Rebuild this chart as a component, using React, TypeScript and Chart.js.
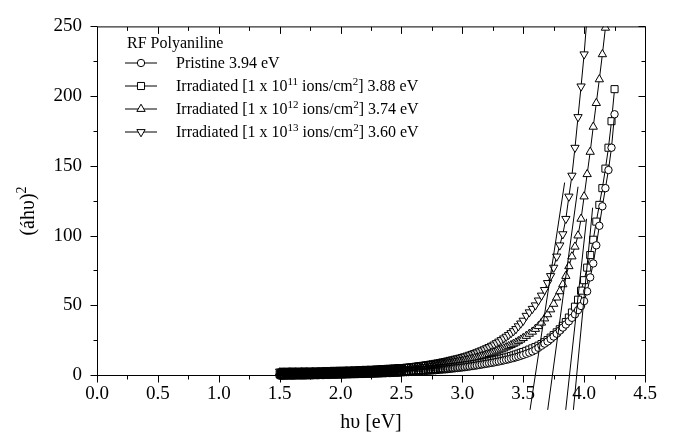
import React, { useEffect, useRef } from 'react';
import { Chart, registerables } from 'chart.js';

Chart.register(...registerables);

// ---- data ----
// photon energy grid, eV (dense at low energy like the measured spectrum)
const energy = [
  1.50, 1.51, 1.52, 1.53, 1.54, 1.55, 1.56, 1.57, 1.58, 1.59,
  1.60, 1.61, 1.62, 1.63, 1.64, 1.65, 1.66, 1.67, 1.68, 1.69,
  1.70, 1.71, 1.72, 1.73, 1.74, 1.75, 1.76, 1.77, 1.78, 1.79,
  1.80, 1.81, 1.82, 1.83, 1.84, 1.85, 1.86, 1.87, 1.88, 1.89,
  1.90, 1.91, 1.92, 1.93, 1.94, 1.95, 1.96, 1.97, 1.98, 1.99,
  2.00, 2.01, 2.02, 2.03, 2.04, 2.05, 2.06, 2.07, 2.08, 2.09,
  2.10, 2.11, 2.12, 2.13, 2.14, 2.15, 2.16, 2.17, 2.18, 2.19,
  2.20, 2.21, 2.22, 2.23, 2.24, 2.25, 2.26, 2.27, 2.28, 2.29,
  2.30, 2.31, 2.32, 2.33, 2.34, 2.35, 2.36, 2.37, 2.38, 2.39,
  2.40, 2.41, 2.42, 2.43, 2.44, 2.45, 2.46, 2.47, 2.48, 2.49,
  2.50,
  2.52, 2.54, 2.56, 2.58, 2.60, 2.62, 2.64, 2.66, 2.68, 2.70,
  2.72, 2.74, 2.76, 2.78, 2.80, 2.82, 2.84, 2.86, 2.88, 2.90,
  2.92, 2.94, 2.96, 2.98, 3.00, 3.02, 3.04, 3.06, 3.08, 3.10,
  3.12, 3.14, 3.16, 3.18, 3.20, 3.22, 3.24, 3.26, 3.28, 3.30,
  3.32, 3.34, 3.36, 3.38, 3.40, 3.42, 3.44, 3.46, 3.48, 3.50,
  3.525, 3.55, 3.575, 3.6, 3.625, 3.65, 3.675, 3.7, 3.725, 3.75,
  3.775, 3.8, 3.825, 3.85, 3.875, 3.9, 3.925, 3.95, 3.975, 4.0,
  4.025, 4.05, 4.075, 4.1, 4.125, 4.15, 4.175, 4.2, 4.225, 4.25,
];

// Pristine (circles)
const pristine = [
  -0.5, -0.5, -0.5, -0.5, -0.5, -0.4, -0.4, -0.4, -0.4, -0.4,
  -0.4, -0.4, -0.4, -0.3, -0.3, -0.3, -0.3, -0.3, -0.3, -0.3,
  -0.3, -0.3, -0.2, -0.2, -0.2, -0.2, -0.2, -0.2, -0.1, -0.1,
  -0.1, -0.1, -0.1, 0.0, 0.0, 0.0, 0.0, 0.1, 0.1, 0.1,
  0.1, 0.1, 0.2, 0.2, 0.2, 0.2, 0.2, 0.3, 0.3, 0.3,
  0.3, 0.3, 0.4, 0.4, 0.4, 0.5, 0.5, 0.5, 0.5, 0.6,
  0.6, 0.6, 0.6, 0.7, 0.7, 0.7, 0.7, 0.8, 0.8, 0.8,
  0.8, 0.8, 0.9, 0.9, 0.9, 0.9, 1.0, 1.0, 1.0, 1.1,
  1.1, 1.1, 1.2, 1.2, 1.2, 1.3, 1.3, 1.3, 1.4, 1.4,
  1.4, 1.5, 1.5, 1.5, 1.6, 1.6, 1.6, 1.7, 1.7, 1.8,
  1.8,
  1.9, 2.0, 2.1, 2.2, 2.3, 2.4, 2.5, 2.6, 2.7, 2.9,
  3.0, 3.1, 3.3, 3.4, 3.6, 3.7, 3.9, 4.0, 4.2, 4.4,
  4.6, 4.8, 5.0, 5.2, 5.4, 5.6, 5.9, 6.1, 6.4, 6.6,
  6.9, 7.2, 7.5, 7.8, 8.1, 8.4, 8.7, 9.0, 9.4, 9.7,
  10.1, 10.5, 10.9, 11.3, 11.8, 12.2, 12.7, 13.2, 13.8, 14.4,
  15.2, 16.0, 16.9, 18.0, 19.5, 21.0, 22.5, 24.0, 25.8, 27.6,
  29.6, 31.8, 34.0, 36.2, 38.5, 41.0, 43.5, 46.5, 49.5, 53,
  60, 70, 80, 93, 107, 121, 134, 147, 163, 187,
];

// Irradiated 1e11 ions/cm2 (squares)
const irradiated1e11 = [
  0.5, 0.5, 0.5, 0.5, 0.5, 0.5, 0.5, 0.5, 0.6, 0.6,
  0.6, 0.6, 0.6, 0.6, 0.6, 0.6, 0.6, 0.6, 0.6, 0.7,
  0.7, 0.7, 0.7, 0.7, 0.7, 0.7, 0.7, 0.7, 0.7, 0.8,
  0.8, 0.8, 0.8, 0.8, 0.8, 0.9, 0.9, 0.9, 0.9, 0.9,
  0.9, 0.9, 1.0, 1.0, 1.0, 1.0, 1.0, 1.0, 1.1, 1.1,
  1.1, 1.1, 1.1, 1.2, 1.2, 1.2, 1.2, 1.3, 1.3, 1.3,
  1.3, 1.3, 1.4, 1.4, 1.4, 1.4, 1.5, 1.5, 1.5, 1.5,
  1.6, 1.6, 1.6, 1.6, 1.7, 1.7, 1.7, 1.8, 1.8, 1.8,
  1.9, 1.9, 1.9, 2.0, 2.0, 2.0, 2.1, 2.1, 2.1, 2.2,
  2.2, 2.2, 2.3, 2.3, 2.4, 2.4, 2.4, 2.5, 2.5, 2.6,
  2.6,
  2.7, 2.8, 2.9, 3.0, 3.1, 3.3, 3.4, 3.5, 3.6, 3.8,
  3.9, 4.0, 4.2, 4.3, 4.5, 4.7, 4.8, 5.0, 5.2, 5.4,
  5.6, 5.8, 6.0, 6.3, 6.5, 6.8, 7.0, 7.3, 7.5, 7.8,
  8.1, 8.4, 8.7, 9.0, 9.4, 9.7, 10.1, 10.5, 10.9, 11.3,
  11.7, 12.2, 12.6, 13.1, 13.6, 14.1, 14.7, 15.3, 15.9, 16.5,
  17.3, 18.2, 19.1, 20.0, 21.0, 22.2, 23.5, 25.0, 26.8, 28.6,
  30.6, 32.8, 35.3, 38.0, 41.2, 44.8, 49.0, 54.0, 60.5, 68,
  77, 86, 97, 110, 122, 134, 148, 163, 182, 205,
];

// Irradiated 1e12 ions/cm2 (up triangles)
const irradiated1e12 = [
  1.8, 1.8, 1.8, 1.8, 1.8, 1.8, 1.8, 1.9, 1.9, 1.9,
  1.9, 1.9, 1.9, 1.9, 1.9, 1.9, 1.9, 1.9, 2.0, 2.0,
  2.0, 2.0, 2.0, 2.0, 2.0, 2.0, 2.0, 2.1, 2.1, 2.1,
  2.1, 2.1, 2.1, 2.2, 2.2, 2.2, 2.2, 2.3, 2.3, 2.3,
  2.3, 2.3, 2.4, 2.4, 2.4, 2.4, 2.4, 2.5, 2.5, 2.5,
  2.5, 2.5, 2.6, 2.6, 2.6, 2.7, 2.7, 2.7, 2.7, 2.8,
  2.8, 2.8, 2.9, 2.9, 2.9, 3.0, 3.0, 3.0, 3.1, 3.1,
  3.1, 3.1, 3.2, 3.2, 3.2, 3.2, 3.3, 3.3, 3.4, 3.4,
  3.5, 3.5, 3.6, 3.6, 3.7, 3.7, 3.8, 3.8, 3.9, 3.9,
  4.0, 4.0, 4.1, 4.1, 4.2, 4.2, 4.3, 4.3, 4.3, 4.4,
  4.4,
  4.6, 4.7, 4.9, 5.0, 5.2, 5.4, 5.6, 5.8, 6.0, 6.2,
  6.4, 6.5, 6.7, 6.9, 7.2, 7.4, 7.7, 7.9, 8.2, 8.5,
  8.8, 9.1, 9.4, 9.7, 10.0, 10.4, 10.8, 11.2, 11.6, 12.0,
  12.4, 12.9, 13.4, 13.9, 14.4, 15.0, 15.6, 16.2, 16.9, 17.6,
  18.3, 19.0, 19.8, 20.6, 21.4, 22.3, 23.2, 24.2, 25.3, 26.5,
  28.0, 29.5, 31.0, 33.0, 35.0, 37.5, 40.5, 43.5, 47.0, 51,
  55.5, 60, 65, 71, 78, 85, 92, 100, 112, 128,
  144, 160, 178, 195, 212, 230, 249,
];

// Irradiated 1e13 ions/cm2 (down triangles)
const irradiated1e13 = [
  2.5, 2.5, 2.5, 2.5, 2.5, 2.6, 2.6, 2.6, 2.6, 2.6,
  2.6, 2.6, 2.6, 2.7, 2.7, 2.7, 2.7, 2.7, 2.7, 2.7,
  2.7, 2.8, 2.8, 2.8, 2.8, 2.8, 2.8, 2.8, 2.9, 2.9,
  2.9, 2.9, 2.9, 2.9, 3.0, 3.0, 3.0, 3.0, 3.0, 3.1,
  3.1, 3.1, 3.1, 3.1, 3.2, 3.2, 3.2, 3.2, 3.3, 3.3,
  3.3, 3.3, 3.4, 3.4, 3.4, 3.5, 3.5, 3.5, 3.6, 3.6,
  3.6, 3.7, 3.7, 3.7, 3.8, 3.8, 3.8, 3.9, 3.9, 4.0,
  4.0, 4.0, 4.1, 4.1, 4.2, 4.2, 4.2, 4.3, 4.3, 4.4,
  4.4, 4.5, 4.5, 4.6, 4.6, 4.7, 4.7, 4.8, 4.8, 4.9,
  4.9, 5.0, 5.0, 5.1, 5.1, 5.2, 5.3, 5.3, 5.4, 5.4,
  5.5,
  5.7, 5.9, 6.1, 6.3, 6.5, 6.7, 7.0, 7.2, 7.4, 7.7,
  7.9, 8.2, 8.5, 8.8, 9.1, 9.4, 9.8, 10.1, 10.5, 10.9,
  11.3, 11.7, 12.1, 12.5, 13.0, 13.5, 14.0, 14.6, 15.2, 15.8,
  16.4, 17.1, 17.8, 18.5, 19.3, 20.1, 21.0, 21.9, 22.9, 24.0,
  25.1, 26.3, 27.5, 28.8, 30.1, 31.5, 33.0, 35.0, 37.0, 39.0,
  42.5, 45, 47.5, 50, 53.5, 57, 61, 66, 71, 77,
  85, 93, 101, 112, 128, 143, 163, 185, 207, 230,
  258,
];

const seriesLabels = [
  'Pristine 3.94 eV',
  'Irradiated [1 x 10^{11} ions/cm^{2}] 3.88 eV',
  'Irradiated [1 x 10^{12} ions/cm^{2}] 3.74 eV',
  'Irradiated [1 x 10^{13} ions/cm^{2}] 3.60 eV',
];
const legendTitle = 'RF Polyaniline';

// linear extrapolation (band-gap) lines: endpoints [x0, x1] and [y0, y1]
const fitLineEnergy = [
  [3.912, 4.07],
  [3.849, 4.02],
  [3.701, 3.95],
  [3.556, 3.84],
];
const fitLineValues = [
  [-25, 120],
  [-25, 112],
  [-25, 135],
  [-25, 138],
];

const xMajorTicks = [0, 0.5, 1.0, 1.5, 2.0, 2.5, 3.0, 3.5, 4.0, 4.5];
const xMinorTicks = [0.25, 0.75, 1.25, 1.75, 2.25, 2.75, 3.25, 3.75, 4.25];
const yMajorTicks = [0, 50, 100, 150, 200, 250];
const yMinorTicks = [25, 75, 125, 175, 225];

const xTitle = 'hυ [eV]';
const yTitle = '(áhυ)^{2}';

// ---- helpers ----
const FONT = '"Liberation Serif", "Times New Roman", serif';

function drawRich(ctx: CanvasRenderingContext2D, text: string, x: number, y: number, size: number, measureOnly = false): number {
  const parts = text.split(/(\^\{[^}]*\})/).filter((p) => p.length > 0);
  let cx = x;
  for (const p of parts) {
    if (p.startsWith('^{')) {
      const t = p.slice(2, -1);
      ctx.font = `${Math.round(size * 0.68)}px ${FONT}`;
      if (!measureOnly) ctx.fillText(t, cx, y - size * 0.4);
      cx += ctx.measureText(t).width;
    } else {
      ctx.font = `${size}px ${FONT}`;
      if (!measureOnly) ctx.fillText(p, cx, y);
      cx += ctx.measureText(p).width;
    }
  }
  return cx - x;
}

function drawMarker(ctx: CanvasRenderingContext2D, style: string, rot: number, r: number, x: number, y: number) {
  ctx.beginPath();
  if (style === 'circle') {
    ctx.arc(x, y, r, 0, Math.PI * 2);
  } else if (style === 'rect') {
    const s = r * Math.SQRT1_2;
    ctx.rect(x - s, y - s, 2 * s, 2 * s);
  } else {
    let a = (rot * Math.PI) / 180;
    ctx.moveTo(x + Math.sin(a) * r, y - Math.cos(a) * r);
    a += (2 * Math.PI) / 3;
    ctx.lineTo(x + Math.sin(a) * r, y - Math.cos(a) * r);
    a += (2 * Math.PI) / 3;
    ctx.lineTo(x + Math.sin(a) * r, y - Math.cos(a) * r);
    ctx.closePath();
  }
  ctx.fillStyle = '#ffffff';
  ctx.fill();
  ctx.stroke();
}

const markerStyles = [
  { style: 'circle', rot: 0, r: 3.7 },
  { style: 'rect', rot: 0, r: 5 },
  { style: 'triangle', rot: 0, r: 4.8 },
  { style: 'triangle', rot: 180, r: 4.8 },
];

// the measured points overlap so densely at low energy that they merge into a dark band;
// marker fill fades from see-through to opaque white across this energy range
const DENSE_FROM = 2.8;
const DENSE_TO = 3.45;

export default function App() {
  const ref = useRef<HTMLCanvasElement | null>(null);

  useEffect(() => {
    const canvas = ref.current;
    if (!canvas) return;

    const seriesValues = [pristine, irradiated1e11, irradiated1e12, irradiated1e13];

    const fillFor = (c: any) => {
      const x = c.raw ? c.raw.x : 5;
      const a = Math.max(0, Math.min(1, (x - DENSE_FROM) / (DENSE_TO - DENSE_FROM)));
      return `rgba(255,255,255,${a.toFixed(2)})`;
    };

    const fitSets = fitLineEnergy.map((xs, i) => ({
      label: 'fit' + i,
      data: xs.map((x, j) => ({ x, y: fitLineValues[i][j] })),
      showLine: true,
      borderColor: '#000',
      borderWidth: 1,
      pointRadius: 0,
      clip: { left: 0, right: 0, top: 0, bottom: 45 },
    }));

    const seriesSets = seriesValues.map((vals, i) => ({
      label: seriesLabels[i],
      data: vals.map((y, j) => ({ x: energy[j], y })),
      showLine: true,
      borderColor: '#000',
      borderWidth: 1,
      pointStyle: markerStyles[i].style,
      pointRotation: markerStyles[i].rot,
      pointRadius: markerStyles[i].r,
      pointBorderWidth: 1,
      pointBorderColor: '#000',
      pointBackgroundColor: fillFor,
      clip: { left: 6, right: 6, top: 0, bottom: 8 },
    }));

    const framePlugin = {
      id: 'frame',
      afterDraw(chart: any) {
        const { ctx, chartArea } = chart;
        const { left, right, top, bottom } = chartArea;
        const xs = chart.scales.x;
        const ys = chart.scales.y;
        ctx.save();
        ctx.strokeStyle = '#000';
        ctx.lineWidth = 1;
        ctx.strokeRect(left + 0.5, top + 0.5, right - left, bottom - top);
        const tick = (x1: number, y1: number, x2: number, y2: number) => {
          ctx.beginPath();
          ctx.moveTo(x1, y1);
          ctx.lineTo(x2, y2);
          ctx.stroke();
        };
        const B = bottom + 0.5;
        const T = top + 0.5;
        const L = left + 0.5;
        const R = right + 0.5;
        const xTicks = [...xMajorTicks.map((v) => [v, 7]), ...xMinorTicks.map((v) => [v, 4])];
        xTicks.forEach(([v, len]) => {
          const px = Math.round(xs.getPixelForValue(v)) + 0.5;
          tick(px, B, px, B + len);
          tick(px, T, px, T + len);
        });
        const yTicks = [...yMajorTicks.map((v) => [v, 7]), ...yMinorTicks.map((v) => [v, 4])];
        yTicks.forEach(([v, len]) => {
          const py = Math.round(ys.getPixelForValue(v)) + 0.5;
          tick(L, py, L - len, py);
          tick(R, py, R - len, py);
        });

        // legend
        ctx.fillStyle = '#000';
        ctx.textAlign = 'left';
        ctx.textBaseline = 'alphabetic';
        ctx.font = `16px ${FONT}`;
        ctx.fillText(legendTitle, 127, 48);
        seriesLabels.forEach((lab, i) => {
          const base = 68 + i * 23;
          const my = base - 5;
          tick(125, my, 157, my);
          ctx.lineWidth = 1;
          drawMarker(ctx, markerStyles[i].style, markerStyles[i].rot, markerStyles[i].r, 141, my);
          ctx.fillStyle = '#000';
          drawRich(ctx, lab, 176, base, 16);
        });

        // axis titles
        ctx.fillStyle = '#000';
        ctx.font = `20px ${FONT}`;
        ctx.textAlign = 'center';
        ctx.fillText(xTitle, (left + right) / 2, 428);
        ctx.textAlign = 'left';
        ctx.save();
        ctx.translate(34, 211);
        ctx.rotate(-Math.PI / 2);
        const w = drawRich(ctx, yTitle, 0, 0, 20, true);
        drawRich(ctx, yTitle, -w / 2, 0, 20);
        ctx.restore();
        ctx.restore();
      },
    };

    const chart = new Chart(canvas, {
      type: 'scatter',
      data: { datasets: [...fitSets, ...seriesSets] as any },
      options: {
        responsive: false,
        animation: false,
        devicePixelRatio: 1,
        layout: { padding: { left: 0, right: 30, top: 15, bottom: 0 } },
        plugins: { legend: { display: false }, tooltip: { enabled: false } },
        scales: {
          x: {
            type: 'linear',
            min: 0,
            max: 4.5,
            afterFit: (s: any) => { s.height = 65; },
            grid: { display: false, drawTicks: false },
            border: { display: false },
            ticks: {
              stepSize: 0.5,
              autoSkip: false,
              maxRotation: 0,
              padding: 8,
              color: '#000',
              font: { family: FONT, size: 19 },
              callback: (v: any) => Number(v).toFixed(1),
            },
          },
          y: {
            type: 'linear',
            min: 0,
            max: 250,
            afterFit: (s: any) => { s.width = 97; },
            grid: { display: false, drawTicks: false },
            border: { display: false },
            ticks: {
              stepSize: 50,
              padding: 15,
              color: '#000',
              font: { family: FONT, size: 19 },
            },
          },
        },
      } as any,
      plugins: [framePlugin],
    });

    return () => chart.destroy();
  }, []);

  return (
    <div style={{ position: 'absolute', left: 0, top: 0, width: 675, height: 440, background: '#fff' }}>
      <canvas ref={ref} width={675} height={440} style={{ display: 'block' }} />
    </div>
  );
}
